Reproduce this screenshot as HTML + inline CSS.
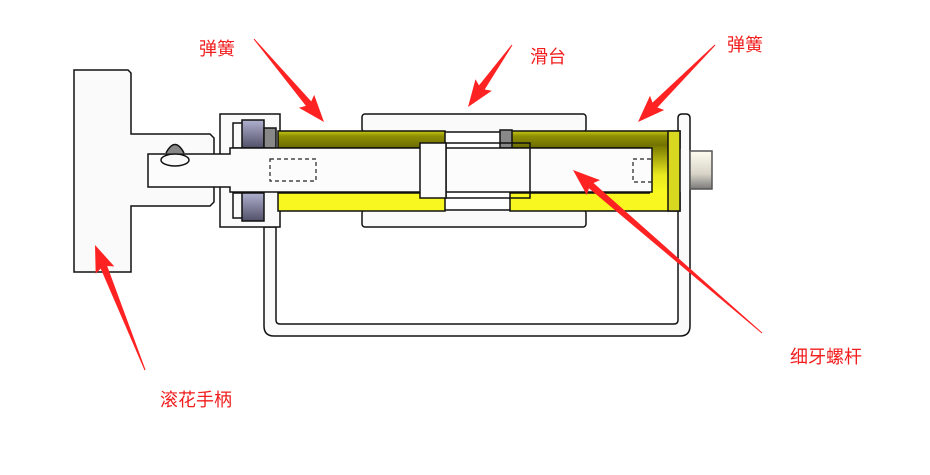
<!DOCTYPE html>
<html><head><meta charset="utf-8"><style>
html,body{margin:0;padding:0;background:#fff;width:930px;height:475px;overflow:hidden}
svg{display:block}
text{font-family:"Liberation Sans","Noto Sans CJK SC",sans-serif;font-size:18px;fill:#f21d1d}
</style></head><body>
<svg id="s" width="930" height="475" viewBox="0 0 930 475" xmlns="http://www.w3.org/2000/svg">
<defs>
<linearGradient id="olive" x1="0" y1="0" x2="0" y2="1"><stop offset="0" stop-color="#c8c810"/><stop offset="0.3" stop-color="#8e8e05"/><stop offset="1" stop-color="#6a6a00"/></linearGradient>
<linearGradient id="olive2" x1="0" y1="0" x2="0" y2="1"><stop offset="0" stop-color="#7a7a00"/><stop offset="0.6" stop-color="#e8e820"/><stop offset="1" stop-color="#fafa20"/></linearGradient>
<linearGradient id="knob" x1="0" y1="0" x2="0" y2="1"><stop offset="0" stop-color="#fffdf0"/><stop offset="0.6" stop-color="#d8d4c8"/><stop offset="1" stop-color="#7a7a7a"/></linearGradient>
<linearGradient id="brg" x1="0" y1="0" x2="0" y2="1"><stop offset="0" stop-color="#b0b0d0"/><stop offset="1" stop-color="#505068"/></linearGradient>
</defs>
<g stroke="#111" stroke-width="1.5" fill="#fafafa">
<path d="M264 227 L264 326 Q264 336 274 336 L680 336 Q690 336 690 326 L690 118 Q690 114 686 114 L682 114 Q678 114 678 118 L678 320 Q678 324 674 324 L280 324 Q276 324 276 320 L276 227 Z"/>
<path d="M74 70 L128 70 L131 73 L131 134 L210 134 L214 138 L214 202 L210 206 L131 206 L131 272 L74 272 Z"/>
<path d="M220 114 L280 114 L280 227 L220 227 Z"/>
<rect x="233" y="123" width="12" height="25" fill="#fafafa"/>
<rect x="233" y="193" width="12" height="25" fill="#fafafa"/>
<rect x="242" y="120" width="22" height="28" fill="url(#brg)"/>
<rect x="242" y="193" width="22" height="28" fill="url(#brg)"/>
<rect x="264" y="128" width="12" height="20" fill="#888"/>
<rect x="362" y="114" width="224" height="18" rx="3"/>
<rect x="362" y="210" width="224" height="17" rx="3"/>
<rect x="278" y="131" width="167" height="17" fill="url(#olive)"/>
<rect x="278" y="193" width="167" height="18" fill="#f8f820"/>
<rect x="510" y="131" width="170" height="17" fill="url(#olive)"/>
<rect x="510" y="193" width="170" height="18" fill="#f8f820"/>
<rect x="650" y="146" width="28" height="48" fill="url(#olive2)" stroke="none"/>
<rect x="668" y="131" width="12" height="80" fill="#d8d820"/>
<rect x="500" y="130" width="12" height="18" fill="#888"/>
<path d="M148 154 L230 154 L230 148 L652 148 L652 192 L230 192 L230 187 L148 187 Z" fill="#fcfcfc"/>
<rect x="446" y="143" width="84" height="55" fill="none"/>
<rect x="420" y="143" width="26" height="55" fill="#fcfcfc"/>
<ellipse cx="175" cy="160" rx="14" ry="6"/>
<path d="M166 153 Q175 136 184 153" fill="#888"/>
<rect x="690" y="151" width="22" height="38" fill="url(#knob)" stroke="#555"/>
</g>
<g fill="none" stroke="#222" stroke-width="1.2" stroke-dasharray="4 3">
<rect x="270" y="159" width="46" height="22"/>
<rect x="633" y="159" width="19" height="23"/>
</g>
<g id="arrows" fill="#f22"></g>
<text x="199" y="55">弹簧</text>
<text x="530" y="63">滑台</text>
<text x="727" y="51">弹簧</text>
<text x="790" y="363">细牙螺杆</text>
<text x="160" y="406">滚花手柄</text>
</svg>
<script>
var A=[[254,39,324,122],[512,45,468,107],[715,45,638,122],[762,333,573,170],[145,370,95,245]];
var g=document.getElementById('arrows');
A.forEach(function(a){
 var dx=a[2]-a[0],dy=a[3]-a[1],L=Math.hypot(dx,dy),ux=dx/L,uy=dy/L,nx=-uy,ny=ux;
 var hl=24,hw=10,sw=3.5;
 var bx=a[2]-ux*hl,by=a[3]-uy*hl;
 var p=[[a[0]+nx*0.5,a[1]+ny*0.5],[bx+nx*sw,by+ny*sw],[bx+nx*hw-ux*3,by+ny*hw-uy*3],[a[2],a[3]],[bx-nx*hw-ux*3,by-ny*hw-uy*3],[bx-nx*sw,by-ny*sw],[a[0]-nx*0.5,a[1]-ny*0.5]];
 var el=document.createElementNS('http://www.w3.org/2000/svg','polygon');
 el.setAttribute('points',p.map(function(q){return q[0].toFixed(1)+','+q[1].toFixed(1)}).join(' '));
 g.appendChild(el);
});
</script>
</body></html>
